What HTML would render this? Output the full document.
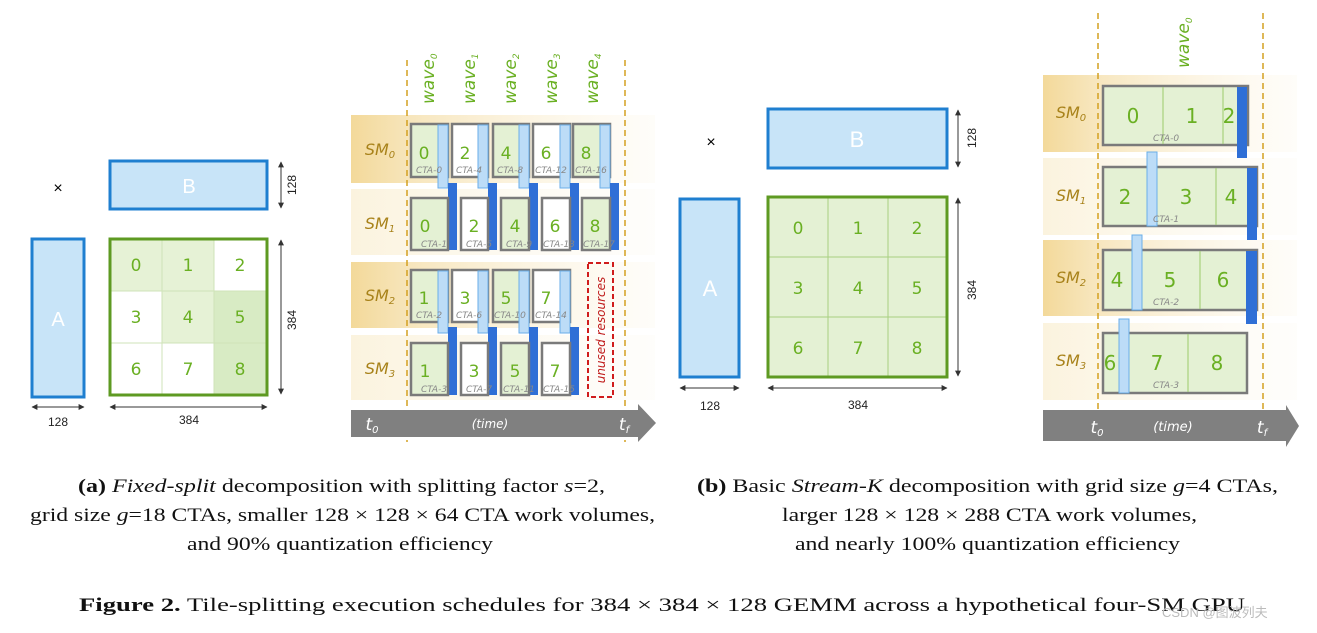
<!DOCTYPE html>
<html><head><meta charset="utf-8"><style>
html,body{margin:0;padding:0;background:#fff}
svg{display:block}
.s{font-family:"Liberation Sans",sans-serif}
.num{font-family:"DejaVu Sans","Liberation Sans",sans-serif;fill:#6ab023;font-size:17px;text-anchor:middle}
.numb{font-family:"DejaVu Sans","Liberation Sans",sans-serif;fill:#6ab023;font-size:20px;text-anchor:middle}
.cta{font-family:"DejaVu Sans",sans-serif;font-style:italic;fill:#888;font-size:9px;text-anchor:middle}
.sm{font-family:"DejaVu Sans",sans-serif;font-style:italic;fill:#a8821a;font-size:16px;text-anchor:middle}
.wv{font-family:"DejaVu Sans",sans-serif;font-style:italic;fill:#6ab023;font-size:17px}
.fx{font-family:"DejaVu Sans",sans-serif;font-size:6px;fill:#fff}
.fxl{font-family:"DejaVu Sans",sans-serif;font-size:6px;fill:#3a7fd0}
.dim{font-family:"Liberation Sans",sans-serif;font-size:12px;fill:#222;text-anchor:middle}
.cap{font-family:"Liberation Serif",serif;font-size:19px;fill:#111}
</style></head><body>
<svg width="1317" height="633" viewBox="0 0 1317 633" xmlns="http://www.w3.org/2000/svg">
<defs>
<linearGradient id="gO" x1="0" x2="1"><stop offset="0" stop-color="#f3d99a"/><stop offset="0.2" stop-color="#f7e6bd"/><stop offset="1" stop-color="#fdf8ec" stop-opacity="0.3"/></linearGradient>
<linearGradient id="gL" x1="0" x2="1"><stop offset="0" stop-color="#fbf3de"/><stop offset="1" stop-color="#fdfbf5" stop-opacity="0.4"/></linearGradient>
<marker id="ar" viewBox="0 0 10 10" refX="9" refY="5" markerWidth="6" markerHeight="6" orient="auto-start-reverse"><path d="M0,0L10,5L0,10z" fill="#333"/></marker>
</defs>

<!-- ===== (a) matrices ===== -->
<text x="58" y="193" class="s" font-size="16" text-anchor="middle">×</text>
<rect x="110" y="161" width="157" height="48" fill="#c8e4f8" stroke="#1f7fd0" stroke-width="3"/>
<text x="189" y="193" class="s" font-size="20" fill="#fff" text-anchor="middle">B</text>
<line x1="281" y1="162" x2="281" y2="208" stroke="#333" marker-start="url(#ar)" marker-end="url(#ar)"/>
<text x="296" y="185" class="dim" transform="rotate(-90 296 185)">128</text>
<rect x="32" y="239" width="52" height="158" fill="#c8e4f8" stroke="#1f7fd0" stroke-width="3"/>
<text x="58" y="326" class="s" font-size="20" fill="#fff" text-anchor="middle">A</text>
<line x1="32" y1="407" x2="84" y2="407" stroke="#333" marker-start="url(#ar)" marker-end="url(#ar)"/>
<text x="58" y="426" class="dim">128</text>
<g>
<rect x="110" y="239" width="52" height="52" fill="#e6f2d6"/><rect x="162" y="239" width="52" height="52" fill="#e6f2d6"/><rect x="214" y="239" width="53" height="52" fill="#fff"/>
<rect x="110" y="291" width="52" height="52" fill="#fff"/><rect x="162" y="291" width="52" height="52" fill="#e6f2d6"/><rect x="214" y="291" width="53" height="52" fill="#d8ebc4"/>
<rect x="110" y="343" width="52" height="52" fill="#fff"/><rect x="162" y="343" width="52" height="52" fill="#fff"/><rect x="214" y="343" width="53" height="52" fill="#d8ebc4"/>
<path d="M162,239V395M214,239V395M110,291H267M110,343H267" stroke="#cfe3b8" stroke-width="1"/>
<rect x="110" y="239" width="157" height="156" fill="none" stroke="#5e9a22" stroke-width="3"/>
<text x="136" y="271" class="num" font-size="15">0</text><text x="188" y="271" class="num" font-size="15">1</text><text x="240" y="271" class="num" font-size="15">2</text>
<text x="136" y="323" class="num" font-size="15">3</text><text x="188" y="323" class="num" font-size="15">4</text><text x="240" y="323" class="num" font-size="15">5</text>
<text x="136" y="375" class="num" font-size="15">6</text><text x="188" y="375" class="num" font-size="15">7</text><text x="240" y="375" class="num" font-size="15">8</text>
</g>
<line x1="281" y1="240" x2="281" y2="394" stroke="#333" marker-start="url(#ar)" marker-end="url(#ar)"/>
<text x="296" y="320" class="dim" transform="rotate(-90 296 320)">384</text>
<line x1="110" y1="407" x2="267" y2="407" stroke="#333" marker-start="url(#ar)" marker-end="url(#ar)"/>
<text x="189" y="424" class="dim">384</text>

<!-- ===== (a) timeline ===== -->
<rect x="351" y="115" width="304" height="68" fill="url(#gO)"/>
<rect x="351" y="189" width="304" height="66" fill="url(#gL)"/>
<rect x="351" y="262" width="304" height="66" fill="url(#gO)"/>
<rect x="351" y="335" width="304" height="65" fill="url(#gL)"/>
<text x="380" y="155" class="sm">SM<tspan font-size="10" dy="3">0</tspan></text>
<text x="380" y="229" class="sm">SM<tspan font-size="10" dy="3">1</tspan></text>
<text x="380" y="301" class="sm">SM<tspan font-size="10" dy="3">2</tspan></text>
<text x="380" y="374" class="sm">SM<tspan font-size="10" dy="3">3</tspan></text>
<g class="wv">
<text transform="translate(434,104) rotate(-90)">wave<tspan font-size="9" dy="3">0</tspan></text>
<text transform="translate(475,104) rotate(-90)">wave<tspan font-size="9" dy="3">1</tspan></text>
<text transform="translate(516,104) rotate(-90)">wave<tspan font-size="9" dy="3">2</tspan></text>
<text transform="translate(557,104) rotate(-90)">wave<tspan font-size="9" dy="3">3</tspan></text>
<text transform="translate(598,104) rotate(-90)">wave<tspan font-size="9" dy="3">4</tspan></text>
</g>

<g>
<rect x="411" y="124" width="37" height="53" fill="#e4f1d4" stroke="#7a7a7a" stroke-width="2.5"/>
<rect x="452" y="124" width="36" height="53" fill="#fff" stroke="#7a7a7a" stroke-width="2.5"/>
<rect x="493" y="124" width="36" height="53" fill="#e4f1d4" stroke="#7a7a7a" stroke-width="2.5"/>
<rect x="533" y="124" width="37" height="53" fill="#fff" stroke="#7a7a7a" stroke-width="2.5"/>
<rect x="573" y="124" width="37" height="53" fill="#e4f1d4" stroke="#7a7a7a" stroke-width="2.5"/>
</g>
<g fill="#bcdcf7" stroke="#6aaee8" stroke-width="1">
<rect x="438" y="125" width="10" height="63"/><rect x="478" y="125" width="10" height="63"/><rect x="519" y="125" width="10" height="63"/><rect x="560" y="125" width="10" height="63"/><rect x="600" y="125" width="10" height="63"/>
</g>
<g fill="#2f6fd6">
<rect x="448" y="183" width="9" height="67"/><rect x="488" y="183" width="9" height="67"/><rect x="529" y="183" width="9" height="67"/><rect x="570" y="183" width="9" height="67"/><rect x="610" y="183" width="9" height="67"/>
</g>
<g>
<rect x="411" y="198" width="37" height="52" fill="#e4f1d4" stroke="#7a7a7a" stroke-width="2.5"/>
<rect x="461" y="198" width="27" height="52" fill="#fff" stroke="#7a7a7a" stroke-width="2.5"/>
<rect x="501" y="198" width="28" height="52" fill="#e4f1d4" stroke="#7a7a7a" stroke-width="2.5"/>
<rect x="542" y="198" width="28" height="52" fill="#fff" stroke="#7a7a7a" stroke-width="2.5"/>
<rect x="582" y="198" width="28" height="52" fill="#e4f1d4" stroke="#7a7a7a" stroke-width="2.5"/>
</g>
<text x="424" y="159" class="num">0</text><text x="465" y="159" class="num">2</text><text x="506" y="159" class="num">4</text><text x="546" y="159" class="num">6</text><text x="586" y="159" class="num">8</text>
<text x="429" y="173" class="cta">CTA-0</text><text x="469" y="173" class="cta">CTA-4</text><text x="510" y="173" class="cta">CTA-8</text><text x="551" y="173" class="cta">CTA-12</text><text x="591" y="173" class="cta">CTA-16</text>
<text x="425" y="232" class="num">0</text><text x="474" y="232" class="num">2</text><text x="515" y="232" class="num">4</text><text x="555" y="232" class="num">6</text><text x="595" y="232" class="num">8</text>
<text x="434" y="247" class="cta">CTA-1</text><text x="479" y="247" class="cta">CTA-5</text><text x="519" y="247" class="cta">CTA-9</text><text x="559" y="247" class="cta">CTA-13</text><text x="599" y="247" class="cta">CTA-17</text>

<g>
<rect x="411" y="270" width="37" height="52" fill="#e4f1d4" stroke="#7a7a7a" stroke-width="2.5"/>
<rect x="452" y="270" width="36" height="52" fill="#fff" stroke="#7a7a7a" stroke-width="2.5"/>
<rect x="493" y="270" width="36" height="52" fill="#e4f1d4" stroke="#7a7a7a" stroke-width="2.5"/>
<rect x="533" y="270" width="37" height="52" fill="#fff" stroke="#7a7a7a" stroke-width="2.5"/>
</g>
<g fill="#bcdcf7" stroke="#6aaee8" stroke-width="1">
<rect x="438" y="271" width="10" height="62"/><rect x="478" y="271" width="10" height="62"/><rect x="519" y="271" width="10" height="62"/><rect x="560" y="271" width="10" height="62"/>
</g>
<g fill="#2f6fd6">
<rect x="448" y="327" width="9" height="68"/><rect x="488" y="327" width="9" height="68"/><rect x="529" y="327" width="9" height="68"/><rect x="570" y="327" width="9" height="68"/>
</g>
<g>
<rect x="411" y="343" width="37" height="52" fill="#e4f1d4" stroke="#7a7a7a" stroke-width="2.5"/>
<rect x="461" y="343" width="27" height="52" fill="#fff" stroke="#7a7a7a" stroke-width="2.5"/>
<rect x="501" y="343" width="28" height="52" fill="#e4f1d4" stroke="#7a7a7a" stroke-width="2.5"/>
<rect x="542" y="343" width="28" height="52" fill="#fff" stroke="#7a7a7a" stroke-width="2.5"/>
</g>
<text x="424" y="304" class="num">1</text><text x="465" y="304" class="num">3</text><text x="506" y="304" class="num">5</text><text x="546" y="304" class="num">7</text>
<text x="429" y="318" class="cta">CTA-2</text><text x="469" y="318" class="cta">CTA-6</text><text x="510" y="318" class="cta">CTA-10</text><text x="551" y="318" class="cta">CTA-14</text>
<text x="425" y="377" class="num">1</text><text x="474" y="377" class="num">3</text><text x="515" y="377" class="num">5</text><text x="555" y="377" class="num">7</text>
<text x="434" y="392" class="cta">CTA-3</text><text x="479" y="392" class="cta">CTA-7</text><text x="519" y="392" class="cta">CTA-11</text><text x="559" y="392" class="cta">CTA-15</text>

<rect x="588" y="263" width="25" height="134" fill="none" stroke="#d01c1c" stroke-width="2" stroke-dasharray="5,3"/>
<text transform="translate(605,330) rotate(-90)" font-family="DejaVu Sans,sans-serif" font-style="italic" font-size="12" fill="#c01c1c" text-anchor="middle">unused resources</text>

<line x1="407" y1="60" x2="407" y2="442" stroke="#d4a020" stroke-width="1.5" stroke-dasharray="6,4"/>
<line x1="625" y1="60" x2="625" y2="442" stroke="#d4a020" stroke-width="1.5" stroke-dasharray="6,4"/>
<path d="M351,410H638V404L656,423L638,442V437H351Z" fill="#808080"/>
<text x="372" y="430" font-family="DejaVu Sans,sans-serif" font-style="italic" font-size="17" fill="#fff" text-anchor="middle">t<tspan font-size="10" dy="3">0</tspan></text>
<text x="490" y="428" font-family="DejaVu Sans,sans-serif" font-style="italic" font-size="12" fill="#fff" text-anchor="middle">(time)</text>
<text x="624" y="430" font-family="DejaVu Sans,sans-serif" font-style="italic" font-size="17" fill="#fff" text-anchor="middle">t<tspan font-size="10" dy="3">f</tspan></text>

<!-- ===== (b) matrices ===== -->
<text x="711" y="147" class="s" font-size="16" text-anchor="middle">×</text>
<rect x="768" y="109" width="179" height="59" fill="#c8e4f8" stroke="#1f7fd0" stroke-width="3"/>
<text x="857" y="147" class="s" font-size="22" fill="#fff" text-anchor="middle">B</text>
<line x1="958" y1="110" x2="958" y2="167" stroke="#333" marker-start="url(#ar)" marker-end="url(#ar)"/>
<text x="976" y="138" class="dim" transform="rotate(-90 976 138)">128</text>
<rect x="680" y="199" width="59" height="178" fill="#c8e4f8" stroke="#1f7fd0" stroke-width="3"/>
<text x="710" y="296" class="s" font-size="22" fill="#fff" text-anchor="middle">A</text>
<line x1="680" y1="388" x2="739" y2="388" stroke="#333" marker-start="url(#ar)" marker-end="url(#ar)"/>
<text x="710" y="410" class="dim">128</text>
<rect x="768" y="197" width="179" height="180" fill="#e4f1d4"/>
<path d="M828,197V377M888,197V377M768,257H947M768,317H947" stroke="#a8cf80" stroke-width="1"/>
<rect x="768" y="197" width="179" height="180" fill="none" stroke="#5e9a22" stroke-width="3"/>
<text x="798" y="234" class="num">0</text><text x="858" y="234" class="num">1</text><text x="917" y="234" class="num">2</text>
<text x="798" y="294" class="num">3</text><text x="858" y="294" class="num">4</text><text x="917" y="294" class="num">5</text>
<text x="798" y="354" class="num">6</text><text x="858" y="354" class="num">7</text><text x="917" y="354" class="num">8</text>
<line x1="958" y1="198" x2="958" y2="376" stroke="#333" marker-start="url(#ar)" marker-end="url(#ar)"/>
<text x="976" y="290" class="dim" transform="rotate(-90 976 290)">384</text>
<line x1="768" y1="388" x2="947" y2="388" stroke="#333" marker-start="url(#ar)" marker-end="url(#ar)"/>
<text x="858" y="409" class="dim">384</text>

<!-- ===== (b) timeline ===== -->
<rect x="1043" y="75" width="254" height="77" fill="url(#gO)"/>
<rect x="1043" y="158" width="254" height="77" fill="url(#gL)"/>
<rect x="1043" y="240" width="254" height="76" fill="url(#gO)"/>
<rect x="1043" y="323" width="254" height="77" fill="url(#gL)"/>
<text x="1071" y="118" class="sm">SM<tspan font-size="10" dy="3">0</tspan></text>
<text x="1071" y="201" class="sm">SM<tspan font-size="10" dy="3">1</tspan></text>
<text x="1071" y="283" class="sm">SM<tspan font-size="10" dy="3">2</tspan></text>
<text x="1071" y="366" class="sm">SM<tspan font-size="10" dy="3">3</tspan></text>
<text class="wv" transform="translate(1189,68) rotate(-90)">wave<tspan font-size="9" dy="3">0</tspan></text>

<rect x="1103" y="86" width="145" height="59" fill="#e4f1d4" stroke="#7a7a7a" stroke-width="2.5"/>
<path d="M1163,87V144M1223,87V144" stroke="#9ccc6a"/>
<rect x="1237" y="87" width="10" height="71" fill="#2f6fd6"/>
<text x="1133" y="123" class="numb">0</text><text x="1192" y="123" class="numb">1</text><text x="1229" y="123" class="numb">2</text>
<text x="1166" y="141" class="cta" font-size="10">CTA-0</text>

<rect x="1103" y="167" width="154" height="59" fill="#e4f1d4" stroke="#7a7a7a" stroke-width="2.5"/>
<path d="M1216,168V225" stroke="#9ccc6a"/>
<rect x="1147" y="152" width="10" height="74" fill="#bcdcf7" stroke="#6aaee8"/>
<rect x="1247" y="168" width="10" height="72" fill="#2f6fd6"/>
<text x="1125" y="204" class="numb">2</text><text x="1186" y="204" class="numb">3</text><text x="1231" y="204" class="numb">4</text>
<text x="1166" y="222" class="cta" font-size="10">CTA-1</text>

<rect x="1103" y="250" width="154" height="60" fill="#e4f1d4" stroke="#7a7a7a" stroke-width="2.5"/>
<path d="M1200,251V309" stroke="#9ccc6a"/>
<rect x="1132" y="235" width="10" height="75" fill="#bcdcf7" stroke="#6aaee8"/>
<rect x="1246" y="251" width="11" height="73" fill="#2f6fd6"/>
<text x="1117" y="287" class="numb">4</text><text x="1170" y="287" class="numb">5</text><text x="1223" y="287" class="numb">6</text>
<text x="1166" y="305" class="cta" font-size="10">CTA-2</text>

<rect x="1103" y="333" width="144" height="60" fill="#e4f1d4" stroke="#7a7a7a" stroke-width="2.5"/>
<path d="M1188,334V392" stroke="#9ccc6a"/>
<rect x="1119" y="319" width="10" height="74" fill="#bcdcf7" stroke="#6aaee8"/>
<text x="1110" y="370" class="numb">6</text><text x="1157" y="370" class="numb">7</text><text x="1217" y="370" class="numb">8</text>
<text x="1166" y="388" class="cta" font-size="10">CTA-3</text>

<line x1="1098" y1="13" x2="1098" y2="443" stroke="#d4a020" stroke-width="1.5" stroke-dasharray="6,4"/>
<line x1="1263" y1="13" x2="1263" y2="443" stroke="#d4a020" stroke-width="1.5" stroke-dasharray="6,4"/>
<path d="M1043,410H1286V405L1299,426L1286,447V441H1043Z" fill="#808080"/>
<text x="1097" y="433" font-family="DejaVu Sans,sans-serif" font-style="italic" font-size="17" fill="#fff" text-anchor="middle">t<tspan font-size="10" dy="3">0</tspan></text>
<text x="1173" y="431" font-family="DejaVu Sans,sans-serif" font-style="italic" font-size="13" fill="#fff" text-anchor="middle">(time)</text>
<text x="1262" y="433" font-family="DejaVu Sans,sans-serif" font-style="italic" font-size="17" fill="#fff" text-anchor="middle">t<tspan font-size="10" dy="3">f</tspan></text>

<!-- captions -->
<text x="78" y="492" class="cap" textLength="527" lengthAdjust="spacingAndGlyphs"><tspan font-weight="bold">(a)</tspan> <tspan font-style="italic">Fixed-split</tspan> decomposition with splitting factor <tspan font-style="italic">s</tspan>=2,</text>
<text x="30" y="521" class="cap" textLength="625" lengthAdjust="spacingAndGlyphs">grid size <tspan font-style="italic">g</tspan>=18 CTAs, smaller 128 × 128 × 64 CTA work volumes,</text>
<text x="187" y="550" class="cap" textLength="306" lengthAdjust="spacingAndGlyphs">and 90% quantization efficiency</text>
<text x="697" y="492" class="cap" textLength="581" lengthAdjust="spacingAndGlyphs"><tspan font-weight="bold">(b)</tspan> Basic <tspan font-style="italic">Stream-K</tspan> decomposition with grid size <tspan font-style="italic">g</tspan>=4 CTAs,</text>
<text x="782" y="521" class="cap" textLength="415" lengthAdjust="spacingAndGlyphs">larger 128 × 128 × 288 CTA work volumes,</text>
<text x="795" y="550" class="cap" textLength="385" lengthAdjust="spacingAndGlyphs">and nearly 100% quantization efficiency</text>
<text x="79" y="611" class="cap" font-size="20" textLength="1166" lengthAdjust="spacingAndGlyphs"><tspan font-weight="bold">Figure 2.</tspan> Tile-splitting execution schedules for 384 × 384 × 128 GEMM across a hypothetical four-SM GPU</text>
<text x="1162" y="617" font-family="Liberation Sans,Noto Sans CJK SC,sans-serif" font-size="13" fill="#bbb">CSDN @图波列夫</text>
</svg>
</body></html>
